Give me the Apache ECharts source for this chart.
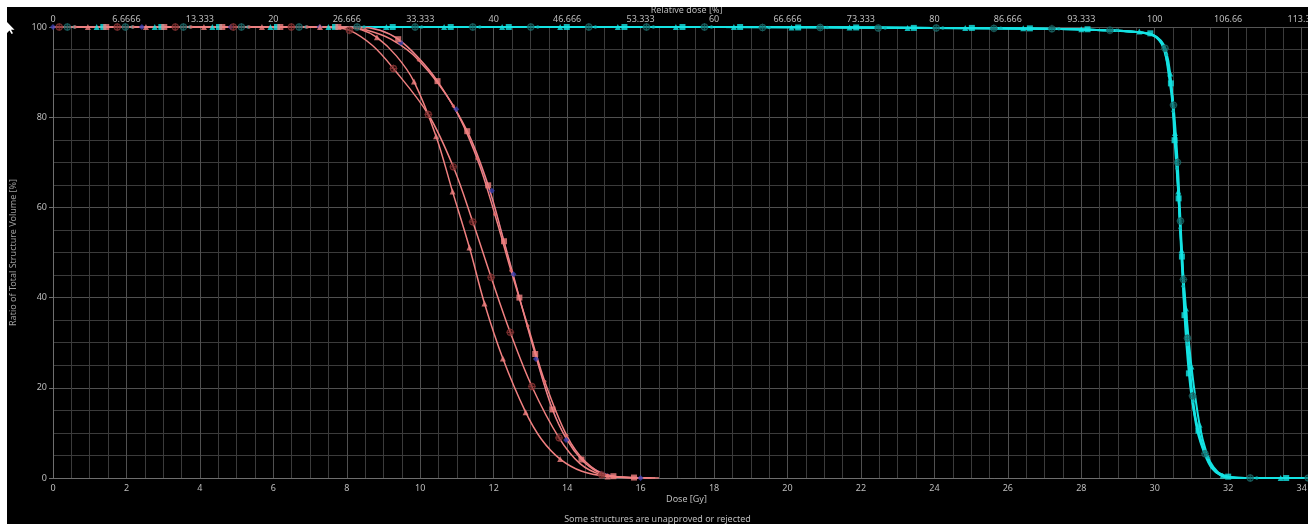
<!DOCTYPE html>
<html>
<head>
<meta charset="utf-8">
<title>Dose Volume Histogram</title>
<script src="https://cdn.jsdelivr.net/npm/echarts@6/dist/echarts.min.js"></script>
<style>
	html, body { margin: 0; padding: 0; background: #fff; }
	#chart { position: absolute; left: 7px; top: 7px; width: 1301px; height: 517px; background: #000; }
</style>
</head>
<body>
<div id="chart"></div>
<script>
// relative dose labels on the top axis (one per 2 Gy tick, 100 % = 30 Gy)
const relDoseLabels = ['0', '6.6666', '13.333', '20', '26.666', '33.333', '40', '46.666', '53.333', '60',
	'66.666', '73.333', '80', '86.666', '93.333', '100', '106.66', '113.33']

// [dose Gy, volume %]
const redTriangleCurve = [[0, 100], [7.9, 100], [8.4, 99.4], [8.82, 97.7], [9.35, 93.6], [9.83, 87.9], [10.43, 75.8],
	[10.88, 63.5], [11.34, 51.1], [11.75, 38.7], [12.25, 26.5], [12.87, 14.6], [13.3, 8.6], [13.81, 4.2], [14.4, 1.5],
	[15.1, 0.35], [16.0, 0]]
const redTriangleMarks = [[0.95, 100], [2.53, 100], [4.11, 100], [5.69, 100], [7.27, 100], [8.82, 97.7], [9.83, 87.9],
	[10.43, 75.8], [10.88, 63.5], [11.34, 51.1], [11.75, 38.7], [12.25, 26.5], [12.87, 14.6], [13.81, 4.2], [15.1, 0.35]]

const redCrossCurve = [[0, 100], [7.2, 100], [7.7, 99.8], [8.07, 99.3], [8.7, 95.9], [9.27, 90.8], [10.22, 80.6],
	[10.9, 69.0], [11.43, 56.8], [11.93, 44.5], [12.45, 32.3], [13.04, 20.3], [13.78, 8.9], [14.35, 3.2], [14.94, 0.7],
	[15.6, 0.1], [16.3, 0]]
const redCrossMarks = [[0.17, 100], [1.75, 100], [3.33, 100], [4.91, 100], [6.49, 100], [8.07, 99.3], [9.27, 90.8],
	[10.22, 80.6], [10.9, 69.0], [11.43, 56.8], [11.93, 44.5], [12.45, 32.3], [13.04, 20.3], [13.78, 8.9], [14.94, 0.7]]

const redSquareCurve = [[0, 100], [8.3, 100], [8.9, 99.3], [9.4, 97.3], [9.95, 93.2], [10.47, 88.0], [11.28, 76.9],
	[11.85, 64.9], [12.28, 52.5], [12.7, 40.0], [13.13, 27.5], [13.6, 15.2], [14.0, 8.4], [14.39, 4.1], [14.8, 1.5],
	[15.26, 0.4], [15.82, 0.1], [16.5, 0]]
const redSquareMarks = [[1.45, 100], [3.03, 100], [4.61, 100], [6.19, 100], [7.77, 100], [9.4, 97.3], [10.47, 88.0],
	[11.28, 76.9], [11.85, 64.9], [12.28, 52.5], [12.7, 40.0], [13.13, 27.5], [13.6, 15.2], [14.39, 4.1], [15.26, 0.4],
	[15.82, 0.1]]

const redDotCurve = [[0, 100], [8.0, 100], [8.5, 99.4], [9.2, 97.3], [9.95, 92.7], [10.9, 82.5], [11.55, 70.8],
	[12.03, 58.5], [12.47, 46.0], [12.93, 33.7], [13.39, 21.4], [13.99, 9.4], [14.5, 3.6], [15.1, 0.6], [15.8, 0.1],
	[16.4, 0]]
const redDotMarks = [[0.6, 100], [2.18, 100], [3.76, 100], [5.34, 100], [6.92, 100], [8.5, 99.4], [9.95, 92.7],
	[10.9, 82.5], [11.55, 70.8], [12.03, 58.5], [12.47, 46.0], [12.93, 33.7], [13.39, 21.4], [13.99, 9.4], [15.1, 0.6]]

const blueCurve = [[0, 100], [8.4, 100], [8.95, 99.2], [9.47, 96.8], [10.2, 90.7], [10.98, 81.2], [11.5, 72.3],
	[11.95, 62.0], [12.54, 44.8], [13.15, 26.9], [13.55, 16.5], [13.97, 8.9], [14.6, 2.8], [15.3, 0.4], [16.0, 0]]
const blueMarks = [[0, 100], [2.42, 100], [4.84, 100], [7.26, 100], [9.47, 96.5], [10.98, 81.75], [11.95, 63.7],
	[12.54, 45.2], [13.15, 26.4], [13.97, 8.4], [16.0, 0]]

const cyanCrossCurve = [[0, 100], [18, 100], [24, 99.8], [27, 99.6], [28.6, 99.3], [29.5, 98.9], [29.95, 98.2],
	[30.15, 97.0], [30.28, 95.3], [30.4, 89.6], [30.51, 82.7], [30.62, 70.5], [30.7, 57.2], [30.78, 44.0], [30.89, 31.0],
	[31.03, 18.2], [31.18, 10.4], [31.37, 5.4], [31.56, 2.3], [31.8, 0.6], [32.1, 0.1], [32.6, 0], [34.5, 0]]
const cyanCrossMarks = [[0.39, 100], [1.97, 100], [3.55, 100], [5.13, 100], [6.7, 100], [8.28, 100], [9.86, 100],
	[11.43, 100], [13.01, 100], [14.59, 100], [16.16, 100], [17.74, 100], [19.32, 99.9], [20.89, 99.9], [22.47, 99.8],
	[24.05, 99.8], [25.62, 99.7], [27.2, 99.6], [28.78, 99.3], [30.28, 95.3], [30.51, 82.7], [30.62, 70.0], [30.7, 57.0],
	[30.78, 44.0], [30.89, 31.0], [31.03, 18.2], [31.37, 5.4], [32.6, 0], [34.18, 0]]

const cyanDotCurve = [[0, 100], [18, 100], [24, 99.8], [27, 99.6], [28.6, 99.3], [29.5, 98.9], [29.93, 98.2],
	[30.13, 97.0], [30.26, 95.2], [30.38, 89.4], [30.49, 82.5], [30.6, 70.2], [30.68, 57.0], [30.76, 44.0], [30.87, 31.0],
	[31.01, 18.2], [31.16, 10.4], [31.36, 5.3], [31.55, 2.2], [31.8, 0.6], [32.1, 0.1], [32.6, 0], [34.5, 0]]
const cyanDotMarks = [[0.58, 100], [2.16, 100], [3.73, 100], [5.31, 100], [6.89, 100], [8.47, 100], [10.04, 100],
	[11.62, 100], [13.2, 100], [14.77, 100], [16.35, 100], [17.93, 100], [19.5, 99.9], [21.08, 99.9], [22.66, 99.8],
	[24.23, 99.8], [25.81, 99.7], [27.39, 99.6], [28.97, 99.3], [30.32, 93.9], [30.5, 81.3], [30.61, 68.6], [30.69, 55.4],
	[30.77, 42.5], [30.89, 29.6], [31.05, 17.0], [31.45, 4.6], [32.78, 0]]

const cyanTriangleCurve = [[0, 100], [18, 100], [24, 99.8], [27, 99.6], [28.6, 99.3], [29.5, 98.9], [29.97, 98.2],
	[30.17, 97.0], [30.3, 95.0], [30.42, 89.7], [30.55, 76.5], [30.64, 63.5], [30.73, 50.5], [30.85, 37.6], [31.0, 24.7],
	[31.22, 11.8], [31.42, 5.3], [31.6, 2.4], [31.85, 0.5], [32.15, 0.1], [32.6, 0], [34.5, 0]]
const cyanTriangleMarks = [[1.19, 100], [2.77, 100], [4.34, 100], [5.92, 100], [7.5, 100], [9.08, 100], [10.65, 100],
	[12.23, 100], [13.81, 100], [15.38, 100], [16.96, 100], [18.54, 100], [20.11, 99.9], [21.69, 99.9], [23.27, 99.8],
	[24.84, 99.8], [26.42, 99.7], [28.0, 99.5], [29.58, 99.0], [30.42, 89.7], [30.55, 76.5], [30.64, 63.5], [30.73, 50.5],
	[30.85, 37.6], [31.0, 24.7], [31.22, 11.8], [31.85, 0.5], [33.43, 0]]

const cyanSquareCurve = [[0, 100], [18, 100], [24, 99.8], [27, 99.6], [28.6, 99.3], [29.5, 98.9], [29.88, 98.5],
	[30.1, 97.3], [30.25, 95.0], [30.44, 87.5], [30.54, 74.9], [30.65, 62.0], [30.74, 49.1], [30.81, 36.1], [30.93, 23.2],
	[31.05, 15.5], [31.19, 10.5], [31.4, 5.0], [31.6, 2.0], [32.0, 0.3], [32.4, 0], [34.5, 0]]
const cyanSquareMarks = [[1.37, 100], [2.95, 100], [4.52, 100], [6.1, 100], [7.68, 100], [9.25, 100], [10.83, 100],
	[12.41, 100], [13.99, 100], [15.56, 100], [17.14, 100], [18.71, 100], [20.29, 99.9], [21.87, 99.9], [23.44, 99.8],
	[25.02, 99.8], [26.6, 99.7], [28.17, 99.5], [29.88, 98.6], [30.44, 87.5], [30.54, 74.9], [30.65, 62.0], [30.74, 49.1],
	[30.81, 36.1], [30.93, 23.2], [31.19, 10.5], [32.0, 0.3], [33.58, 0]]

const RED = '#f08080'
const RED_DARK = '#8c3636'
const CYAN = '#14e2e2'
const CYAN_DARK = '#1e6a6a'
const BLUE = '#3b40b0'
const GRID_MAJOR = '#505050'
const GRID_MINOR = '#3b3b3b'
const TEXT = '#bdbdbd'
const FONT = "'Noto Sans', 'Open Sans', sans-serif"
const CROSS_SYMBOL = 'path://M12,2A10,10,0,1,1,11.99,2ZM12,-1L12,25M-1,12L25,12'

const chart = echarts.init(document.getElementById('chart'), null, { renderer: 'canvas' })

function curve(name, data, color, width, z) {
	return {
		name: name,
		type: 'line',
		data: data,
		smooth: 0.35,
		symbol: 'none',
		showSymbol: false,
		silent: true,
		lineStyle: { color: color, width: width },
		z: z
	}
}

function marks(name, data, symbol, size, fill, stroke, z) {
	return {
		name: name,
		type: 'scatter',
		data: data,
		symbol: symbol,
		symbolSize: size,
		silent: true,
		itemStyle: { color: fill, borderColor: stroke || fill, borderWidth: stroke ? 1.1 : 0 },
		z: z
	}
}

const series = [
	// lines
	curve('Cyan ⊗', cyanCrossCurve, CYAN, 2, 2),
	curve('Cyan dot', cyanDotCurve, CYAN, 2, 2),
	curve('Cyan triangle', cyanTriangleCurve, CYAN, 2, 2),
	curve('Cyan square', cyanSquareCurve, CYAN, 2, 2),
	curve('Blue', blueCurve, BLUE, 1, 3),
	curve('Red ⊗', redCrossCurve, RED, 1.5, 4),
	curve('Red dot', redDotCurve, RED, 1.5, 4),
	curve('Red triangle', redTriangleCurve, RED, 1.5, 4),
	curve('Red square', redSquareCurve, RED, 1.5, 4),
	// markers
	marks('Blue', blueMarks, 'diamond', 6, BLUE, null, 5),
	marks('Cyan ⊗', cyanCrossMarks, CROSS_SYMBOL, 8, 'rgba(0,70,70,0.55)', CYAN_DARK, 6),
	marks('Cyan dot', cyanDotMarks, 'circle', 3.5, '#10b8b8', null, 6),
	marks('Cyan triangle', cyanTriangleMarks, 'triangle', 6, CYAN, null, 6),
	marks('Cyan square', cyanSquareMarks, 'rect', 6, CYAN, null, 6),
	marks('Red ⊗', redCrossMarks, CROSS_SYMBOL, 8, 'rgba(80,20,20,0.55)', RED_DARK, 7),
	marks('Red dot', redDotMarks, 'circle', 3.5, '#e26a6a', null, 7),
	marks('Red triangle', redTriangleMarks, 'triangle', 6, RED, null, 7),
	marks('Red square', redSquareMarks, 'rect', 6, RED, null, 7)
]

const option = {
	animation: false,
	backgroundColor: '#000',
	textStyle: { fontFamily: FONT },
	grid: { left: 46, top: 20, right: -12, bottom: 46, containLabel: false, outerBoundsMode: 'none' },
	xAxis: [
		{
			type: 'value',
			position: 'bottom',
			min: 0,
			max: 34.5,
			interval: 2,
			name: 'Dose [Gy]',
			nameLocation: 'middle',
			nameGap: 17,
			nameMoveOverlap: false,
			nameTextStyle: { color: TEXT, fontSize: 9, fontFamily: FONT },
			axisLine: { onZero: false, lineStyle: { color: '#6e6e6e' } },
			axisTick: { show: false },
			axisLabel: { color: TEXT, fontSize: 9, margin: 6, fontFamily: FONT, showMaxLabel: false },
			splitLine: { show: true, lineStyle: { color: GRID_MAJOR, width: 1 } },
			minorTick: { show: false, splitNumber: 4 },
			minorSplitLine: { show: true, lineStyle: { color: GRID_MINOR, width: 1 } }
		},
		{
			type: 'value',
			position: 'top',
			min: 0,
			max: 34.5,
			interval: 2,
			name: 'Relative dose [%]',
			nameLocation: 'middle',
			nameGap: 12,
			nameMoveOverlap: false,
			nameTextStyle: { color: TEXT, fontSize: 9, fontFamily: FONT },
			axisLine: { onZero: false, lineStyle: { color: '#555' } },
			axisTick: { show: false },
			axisLabel: {
				color: TEXT,
				fontSize: 9,
				margin: 3,
				fontFamily: FONT,
				showMaxLabel: false,
				formatter: (v) => relDoseLabels[Math.round(v / 2)] || ''
			},
			splitLine: { show: false }
		}
	],
	yAxis: {
		type: 'value',
		min: 0,
		max: 100,
		interval: 20,
		name: 'Ratio of Total Structure Volume [%]',
		nameLocation: 'middle',
		nameGap: 35,
		nameMoveOverlap: false,
		nameTextStyle: { color: '#9e9e9e', fontSize: 9, fontFamily: FONT },
		axisLine: { show: true, lineStyle: { color: '#6e6e6e' } },
		axisTick: { show: true, length: 4, lineStyle: { color: '#6e6e6e' } },
		axisLabel: { color: TEXT, fontSize: 9, margin: 6, fontFamily: FONT },
		splitLine: { show: true, lineStyle: { color: GRID_MAJOR, width: 1 } },
		minorTick: { show: false, splitNumber: 4 },
		minorSplitLine: { show: true, lineStyle: { color: GRID_MINOR, width: 1 } }
	},
	graphic: [
		{
			type: 'text',
			left: 'center',
			bottom: 0,
			style: {
				text: 'Some structures are unapproved or rejected',
				fill: TEXT,
				font: "9px 'Noto Sans', 'Open Sans', sans-serif"
			}
		},
		{
			// mouse pointer captured in the screenshot
			type: 'polygon',
			left: 0,
			top: 15,
			shape: { points: [[0, 0], [0, 11], [2.5, 8.5], [4.5, 12], [6, 11.3], [4, 7.8], [7.5, 7.8]] },
			style: { fill: '#fff' }
		}
	],
	series: series
}

chart.setOption(option)

window.addEventListener('resize', () => chart.resize())
</script>
</body>
</html>
